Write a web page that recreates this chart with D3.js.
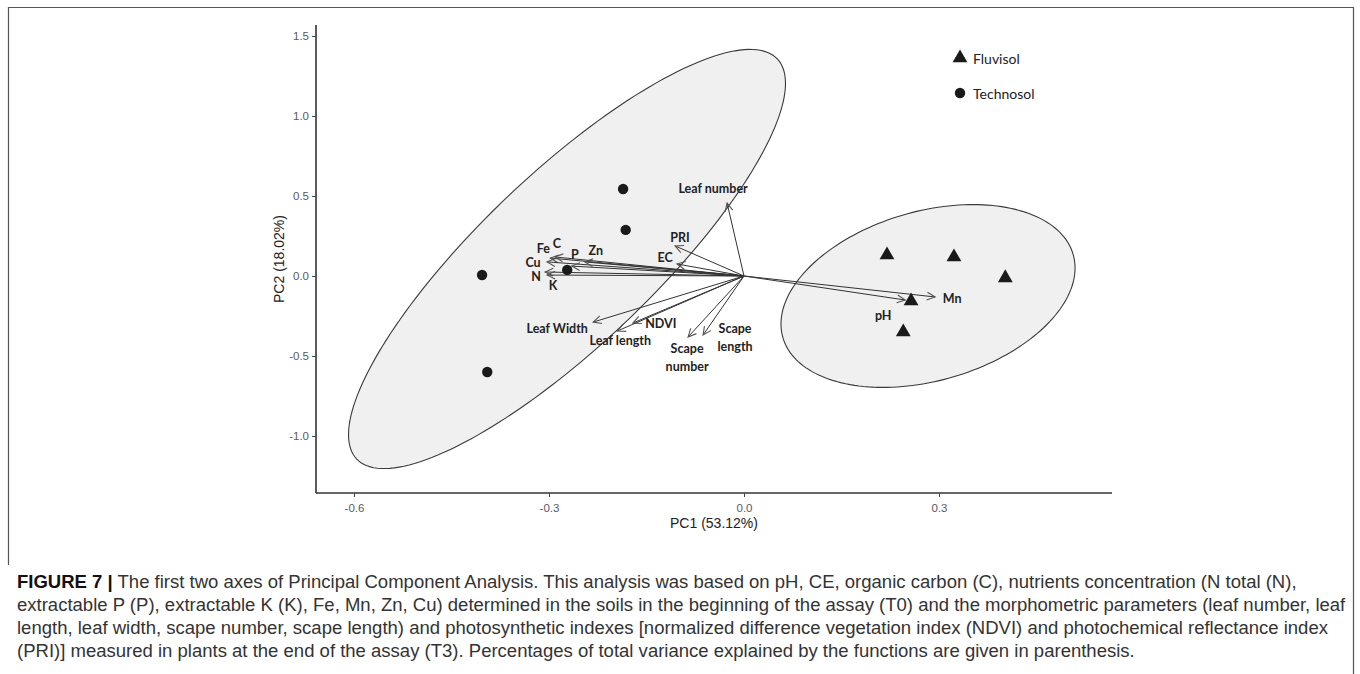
<!DOCTYPE html>
<html>
<head>
<meta charset="utf-8">
<script src="https://cdn.jsdelivr.net/npm/d3@7"></script>
<style>
  html, body { margin: 0; padding: 0; background: #fff; }
  svg { display: block; }
</style>
</head>
<body>
<svg id="chart" width="1360" height="674"></svg>
<script>
// ---------------- DATA ----------------
const xTicks = [-0.6, -0.3, 0.0, 0.3];
const yTicks = [-1.0, -0.5, 0.0, 0.5, 1.0, 1.5];
const xTitle = "PC1 (53.12%)";
const yTitle = "PC2 (18.02%)";

const fluvisolPC1 = [0.220, 0.323, 0.402, 0.257, 0.245];
const fluvisolPC2 = [0.131, 0.119, -0.012, -0.156, -0.350];
const technosolPC1 = [-0.186, -0.182, -0.403, -0.272, -0.395];
const technosolPC2 = [0.544, 0.288, 0.006, 0.038, -0.600];

const variables = ["Leaf number", "PRI", "EC", "Fe", "C", "Cu", "P", "Zn", "N", "K",
                   "Leaf Width", "NDVI", "Leaf length", "Scape number", "Scape length", "Mn", "pH"];
const loadingPC1 = [-0.026, -0.106, -0.103, -0.298, -0.291, -0.303, -0.265, -0.245, -0.306, -0.303,
                    -0.232, -0.171, -0.195, -0.086, -0.063, 0.294, 0.248];
const loadingPC2 = [0.456, 0.188, 0.075, 0.112, 0.119, 0.088, 0.062, 0.088, 0.025, 0.006,
                    -0.288, -0.294, -0.344, -0.381, -0.369, -0.131, -0.150];

// confidence ellipses: centre and two conjugate semi-diameters (data units)
const ellipseGroups = ["Technosol", "Fluvisol"];
const ellipseCentre = [[-0.2723, 0.1063], [0.2831, -0.125]];
const ellipseAxisU = [[0.3235, 1.2506], [0.2262, 0.175]];
const ellipseAxisV = [[0.0913, -0.3897], [0.0, -0.5438]];

const legendLabels = ["Fluvisol", "Technosol"];

const captionLines = [
  " The first two axes of Principal Component Analysis. This analysis was based on pH, CE, organic carbon (C), nutrients concentration (N total (N),",
  "extractable P (P), extractable K (K), Fe, Mn, Zn, Cu) determined in the soils in the beginning of the assay (T0) and the morphometric parameters (leaf number, leaf",
  "length, leaf width, scape number, scape length) and photosynthetic indexes [normalized difference vegetation index (NDVI) and photochemical reflectance index",
  "(PRI)] measured in plants at the end of the assay (T3). Percentages of total variance explained by the functions are given in parenthesis."
];
const captionBold = "FIGURE 7 |";

// ---------------- DRAWING ----------------
const svg = d3.select("#chart");
const panel = {left: 316, right: 1112, top: 25, bottom: 493};

const x = d3.scaleLinear().domain([-0.65846, 0.56615]).range([panel.left, panel.right]);
const y = d3.scaleLinear().domain([-1.35625, 1.56875]).range([panel.bottom, panel.top]);

// frame
svg.append("path")
  .attr("d", "M8.5,565 L8.5,7.5 L1353.5,7.5 L1353.5,674")
  .attr("fill", "none").attr("stroke", "#555").attr("stroke-width", 1.2);

// ellipses
const tParams = d3.range(0, 361, 2).map(d => d * Math.PI / 180);
ellipseGroups.forEach((g, i) => {
  const c = ellipseCentre[i], u = ellipseAxisU[i], v = ellipseAxisV[i];
  const pts = tParams.map(t => [x(c[0] + u[0] * Math.cos(t) + v[0] * Math.sin(t)),
                                y(c[1] + u[1] * Math.cos(t) + v[1] * Math.sin(t))]);
  svg.append("path")
    .attr("d", d3.line().curve(d3.curveLinearClosed)(pts))
    .attr("fill", "#f0f0f0").attr("stroke", "#3a3a3a").attr("stroke-width", 1.1);
});

// axes
const fmt = d => d.toFixed(1);
const xAxis = d3.axisBottom(x).tickValues(xTicks).tickFormat(fmt).tickSize(4).tickSizeOuter(0);
const yAxis = d3.axisLeft(y).tickValues(yTicks).tickFormat(fmt).tickSize(4).tickSizeOuter(0);
const gx = svg.append("g").attr("transform", `translate(0,${panel.bottom})`).call(xAxis);
const gy = svg.append("g").attr("transform", `translate(${panel.left},0)`).call(yAxis);
[gx, gy].forEach(g => {
  g.select(".domain").attr("stroke", "#333").attr("stroke-width", 1.6);
  g.selectAll(".tick line").attr("stroke", "#444").attr("stroke-width", 1);
  g.selectAll(".tick text").attr("fill", "#5a5a66").attr("font-family", "Liberation Sans, Arial, sans-serif")
    .attr("font-size", 11.5);
});
gx.selectAll(".tick text").attr("dy", "1.05em");
gx.select(".domain").attr("d", `M${panel.left},0H${panel.right}`);
gy.select(".domain").attr("d", `M0,${panel.top}V${panel.bottom}`);

svg.append("text").attr("x", (panel.left + panel.right) / 2).attr("y", 528)
  .attr("text-anchor", "middle").attr("font-family", "Liberation Sans, Arial, sans-serif")
  .attr("font-size", 14).attr("fill", "#222").text(xTitle);
svg.append("text").attr("transform", `translate(284,${(panel.top + panel.bottom) / 2}) rotate(-90)`)
  .attr("text-anchor", "middle").attr("font-family", "Liberation Sans, Arial, sans-serif")
  .attr("font-size", 14).attr("fill", "#222").text(yTitle);

// loading arrows
const x0 = x(0), y0 = y(0);
const arrows = svg.append("g");
variables.forEach((name, i) => {
  const tx = x(loadingPC1[i]), ty = y(loadingPC2[i]);
  arrows.append("line").attr("x1", x0).attr("y1", y0).attr("x2", tx).attr("y2", ty)
    .attr("stroke", "#333").attr("stroke-width", 1);
  const ang = Math.atan2(ty - y0, tx - x0);
  const L = 9, a = 0.45;
  const p1 = [tx - L * Math.cos(ang - a), ty - L * Math.sin(ang - a)];
  const p2 = [tx - L * Math.cos(ang + a), ty - L * Math.sin(ang + a)];
  arrows.append("path").attr("d", `M${p1[0]},${p1[1]}L${tx},${ty}L${p2[0]},${p2[1]}`)
    .attr("fill", "none").attr("stroke", "#555").attr("stroke-width", 1.1);
});

// points
svg.append("g").selectAll("path").data(technosolPC1).join("path")
  .attr("transform", (d, i) => `translate(${x(d)},${y(technosolPC2[i])})`)
  .attr("d", d3.symbol().type(d3.symbolCircle).size(85)()).attr("fill", "#1a1a1a");
svg.append("g").selectAll("path").data(fluvisolPC1).join("path")
  .attr("transform", (d, i) => `translate(${x(d)},${y(fluvisolPC2[i])})`)
  .attr("d", d3.symbol().type(d3.symbolTriangle).size(95)()).attr("fill", "#1a1a1a");

// loading labels (offsets from the arrow tip, px)
const labelOffset = {
  "Leaf number": [-14, -15], "PRI": [5, -9], "EC": [-12, -7], "Fe": [-7, -10], "C": [2, -14],
  "Cu": [-14, 0], "P": [3, -12], "Zn": [11, -12], "N": [-9, 4], "K": [6, 10],
  "Leaf Width": [-36, 6], "NDVI": [28, 0], "Leaf length": [3, 9], "Scape number": [-1, 11],
  "Scape length": [32, -7], "Mn": [17, 1], "pH": [-22, 15]
};
const labels = svg.append("g").attr("font-family", "Lato, Calibri, sans-serif")
  .attr("font-weight", "bold").attr("font-size", 12.5).attr("fill", "#222");
variables.forEach((name, i) => {
  const off = labelOffset[name];
  const lx = x(loadingPC1[i]) + off[0], ly = y(loadingPC2[i]) + off[1];
  const parts = name.startsWith("Scape") ? name.split(" ") : [name];
  const t = labels.append("text").attr("text-anchor", "middle").attr("dominant-baseline", "central");
  parts.forEach((p, k) => t.append("tspan").attr("x", lx).attr("y", ly + k * 18).text(p));
});

// legend
const legend = svg.append("g").attr("font-family", "Lato, Calibri, sans-serif").attr("font-size", 14).attr("fill", "#222");
legend.append("path").attr("transform", "translate(960,58)")
  .attr("d", d3.symbol().type(d3.symbolTriangle).size(95)()).attr("fill", "#1a1a1a");
legend.append("path").attr("transform", "translate(960,93)")
  .attr("d", d3.symbol().type(d3.symbolCircle).size(85)()).attr("fill", "#1a1a1a");
legend.append("text").attr("x", 973).attr("y", 58).attr("dominant-baseline", "central").text(legendLabels[0]);
legend.append("text").attr("x", 973).attr("y", 93).attr("dominant-baseline", "central").text(legendLabels[1]);

// caption
const cap = svg.append("g").attr("font-family", "Liberation Sans, Arial, sans-serif").attr("fill", "#333");
const capBase = [588, 611, 634, 657];
const capTexts = captionLines.map((line, i) => {
  const t = cap.append("text").attr("x", 17).attr("y", capBase[i]).attr("font-size", 15);
  if (i === 0) t.append("tspan").attr("font-weight", "bold").attr("fill", "#111").text(captionBold);
  t.append("tspan").text(line);
  return t;
});
const w2 = capTexts[1].node().getComputedTextLength();
const fs = 15 * 1329 / w2;
capTexts.forEach(t => t.attr("font-size", fs));
</script>
</body>
</html>
